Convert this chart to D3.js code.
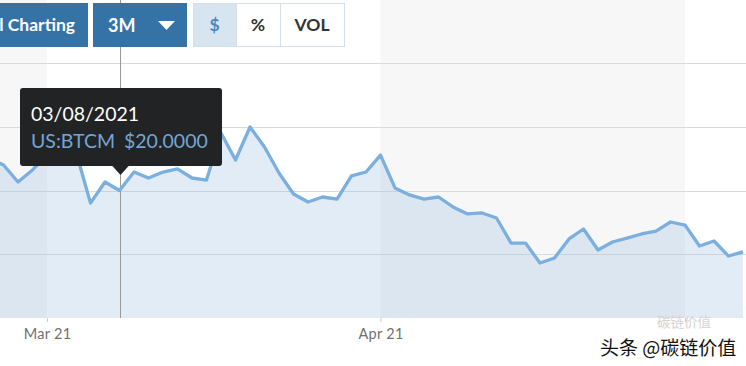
<!DOCTYPE html>
<html><head><meta charset="utf-8">
<script src="https://cdn.jsdelivr.net/npm/d3@7"></script>
<style>
html,body{margin:0;padding:0;background:#fff;overflow:hidden;}
svg{display:block;font-family:Lato,"Open Sans",sans-serif;}
</style></head>
<body>
<svg id="chart" width="746" height="366"></svg>
<script>
// Trading days shown (Feb 23 – May 7, 2021)
const dates = [
  "2021-02-23","2021-02-24","2021-02-25","2021-02-26",
  "2021-03-01","2021-03-02","2021-03-03","2021-03-04","2021-03-05",
  "2021-03-08","2021-03-09","2021-03-10","2021-03-11","2021-03-12",
  "2021-03-15","2021-03-16","2021-03-17","2021-03-18","2021-03-19",
  "2021-03-22","2021-03-23","2021-03-24","2021-03-25","2021-03-26",
  "2021-03-29","2021-03-30","2021-03-31",
  "2021-04-01","2021-04-05","2021-04-06","2021-04-07","2021-04-08","2021-04-09",
  "2021-04-12","2021-04-13","2021-04-14","2021-04-15","2021-04-16",
  "2021-04-19","2021-04-20","2021-04-21","2021-04-22","2021-04-23",
  "2021-04-26","2021-04-27","2021-04-28","2021-04-29","2021-04-30",
  "2021-05-03","2021-05-04","2021-05-05","2021-05-06","2021-05-07"
];
const prices = [
  22.55, 22.00, 20.67, 21.61,
  22.78, 23.57, 23.02, 19.02, 20.67,
  20.00, 21.45, 20.98, 21.45, 21.69,
  20.98, 20.82, 24.51, 22.39, 24.98,
  23.41, 21.37, 19.73, 19.10, 19.49,
  19.33, 21.14, 21.45,
  22.78, 20.20, 19.65, 19.33, 19.49, 18.71,
  18.16, 18.24, 17.84, 15.88, 15.88,
  14.31, 14.71, 16.20, 16.98, 15.33,
  15.96, 16.27, 16.59, 16.82, 17.53,
  17.29, 15.65, 16.04, 14.86, 15.18
];
const gridValues = [15, 20, 25, 30];
const monthStarts = ["2021-03-01", "2021-04-01", "2021-05-03"];
const monthLabels = ["Mar 21", "Apr 21", ""];
const tooltipDate = "03/08/2021";
const tooltipSymbol = "US:BTCM";
const tooltipValue = "$20.0000";
const hoverDate = "2021-03-08";

const svg = d3.select("#chart");
const W = 746, plotTop = 0, plotBottom = 318;

const x = d3.scaleLinear().domain([4, dates.length - 1]).range([47, 743]);
const y = d3.scaleLinear().domain([10, 30]).range([plotBottom, 63]);

// month bands (alternating)
const startIdx = monthStarts.map(d => dates.indexOf(d));
const bandEdges = [x.invert(0)].concat(startIdx).concat([x.invert(W)]);
for (let k = 0; k < bandEdges.length - 1; k++) {
  const x0 = Math.max(0, x(bandEdges[k])), x1 = Math.min(W, x(bandEdges[k + 1]));
  svg.append("rect").attr("x", x0).attr("y", plotTop).attr("width", x1 - x0)
    .attr("height", plotBottom - plotTop)
    .attr("fill", k % 2 === 0 ? "#f7f7f7" : "#ffffff");
}

// gridlines
svg.append("g").selectAll("line").data(gridValues).join("line")
  .attr("x1", 0).attr("x2", W)
  .attr("y1", d => Math.round(y(d)) + 0.5).attr("y2", d => Math.round(y(d)) + 0.5)
  .attr("stroke", "#dadada").attr("stroke-width", 1);

const data = prices.map((p, i) => ({ i, p }));
const area = d3.area().x(d => x(d.i)).y0(plotBottom).y1(d => y(d.p));
const line = d3.line().x(d => x(d.i)).y(d => y(d.p));

svg.append("path").datum(data).attr("d", area)
  .attr("fill", "#9dc0e0").attr("fill-opacity", 0.3);

// crosshair
const hx = Math.round(x(dates.indexOf(hoverDate))) + 0.5;
svg.append("line").attr("x1", hx).attr("x2", hx).attr("y1", 0).attr("y2", plotBottom)
  .attr("stroke", "#9a9a9a").attr("stroke-width", 1);

svg.append("path").datum(data).attr("d", line)
  .attr("fill", "none").attr("stroke", "#7aafdf").attr("stroke-width", 3.3)
  .attr("stroke-linejoin", "round");

// x axis
const axis = d3.axisBottom(x).tickValues(startIdx).tickSize(4)
  .tickFormat((d, i) => monthLabels[i]);
const ax = svg.append("g").attr("transform", `translate(0,${plotBottom})`).call(axis);
ax.select(".domain").remove();
ax.selectAll(".tick line").attr("stroke", "#cccccc");
ax.selectAll(".tick text").filter(function () { return !this.textContent; }).remove();
ax.selectAll(".tick text").attr("fill", "#707070").attr("font-size", 14.5)
  .attr("font-family", "Lato, sans-serif").attr("letter-spacing", "0.3px").attr("dy", "0.95em");

// top buttons
const btn = svg.append("g");
btn.append("rect").attr("x", -10).attr("y", 3).attr("width", 98).attr("height", 44).attr("fill", "#3572a5");
btn.append("text").attr("x", 75).attr("y", 31).attr("text-anchor", "end")
  .attr("fill", "#fff").attr("font-size", 17.5).attr("font-weight", 700).text("Technical Charting");
btn.append("rect").attr("x", 93).attr("y", 3).attr("width", 94).attr("height", 44).attr("fill", "#3572a5");
btn.append("text").attr("x", 108).attr("y", 32).attr("fill", "#fff")
  .attr("font-size", 18).attr("font-weight", 700).text("3M");
btn.append("path").attr("d", "M158,21 L175,21 L166.5,30 Z").attr("fill", "#fff");

const toggles = [
  { label: "$", x0: 193, x1: 236, active: true },
  { label: "%", x0: 236, x1: 280, active: false },
  { label: "VOL", x0: 280, x1: 344, active: false }
];
toggles.forEach(t => {
  btn.append("rect").attr("x", t.x0 + 0.5).attr("y", 3.5).attr("width", t.x1 - t.x0)
    .attr("height", 43).attr("fill", t.active ? "#d7e5f1" : "#fff")
    .attr("stroke", "#d3dfe9").attr("stroke-width", 1);
  btn.append("text").attr("x", (t.x0 + t.x1) / 2).attr("y", 31).attr("text-anchor", "middle")
    .attr("fill", t.active ? "#4a86bf" : "#333").attr("font-size", 17.5)
    .attr("font-weight", 700).text(t.label);
});

// tooltip
const tip = svg.append("g");
tip.append("rect").attr("x", 20).attr("y", 88).attr("width", 202).attr("height", 78)
  .attr("rx", 3).attr("fill", "#222324");
tip.append("path").attr("d", `M${hx - 9},165 L${hx + 9},165 L${hx},175 Z`).attr("fill", "#222324");
tip.append("text").attr("x", 31).attr("y", 121).attr("fill", "#fff")
  .attr("font-size", 19.5).text(tooltipDate);
tip.append("text").attr("x", 31).attr("y", 148).attr("fill", "#72a6d8")
  .attr("font-size", 19.5).text(tooltipSymbol);
tip.append("text").attr("x", 124).attr("y", 148).attr("fill", "#72a6d8")
  .attr("font-size", 19.5).text(tooltipValue);

// watermark
const wm = svg.append("g").attr("font-family", "'Noto Sans CJK SC', sans-serif");
wm.append("text").attr("x", 657).attr("y", 327).attr("fill", "#d4d4d4")
  .attr("font-size", 13.5).text("碳链价值");
wm.append("text").attr("x", 600).attr("y", 355).attr("fill", "#111")
  .attr("stroke", "#fff").attr("stroke-width", 2).attr("paint-order", "stroke")
  .attr("font-size", 19).text("头条 @碳链价值");
</script>
</body></html>
